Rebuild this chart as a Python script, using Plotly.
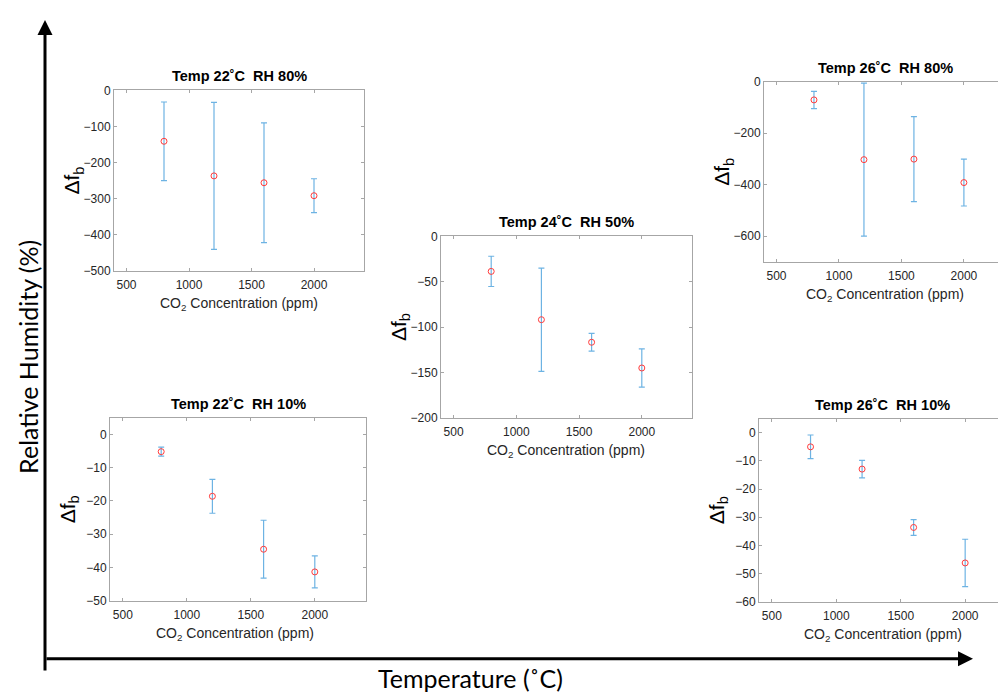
import plotly.graph_objects as go

# ----------------------------------
# DATA
# ----------------------------------

co2_ppm = [800, 1200, 1600, 2000]

df_22_80 = [-141, -237, -256, -292]
err_22_80 = [109, 204, 166, 47]

df_24_50 = [-38.6, -91.9, -116.8, -145.2]
err_24_50 = [16.7, 57, 9.7, 21]

df_26_80 = [-71, -303, -301, -392]
err_26_80 = [33.5, 297, 165, 91]

df_22_10 = [-5.2, -18.6, -34.5, -41.3]
err_22_10 = [1.35, 5.1, 8.7, 4.8]

df_26_10 = [-5.0, -12.9, -33.6, -46.2]
err_26_10 = [4.2, 3.1, 2.8, 8.4]

titles = [
    "Temp 22˚C\u00a0 RH 80%",
    "Temp 24˚C\u00a0 RH 50%",
    "Temp 26˚C\u00a0 RH 80%",
    "Temp 22˚C\u00a0 RH 10%",
    "Temp 26˚C\u00a0 RH 10%",
]

# ----------------------------------
# PANEL LAYOUT
# ----------------------------------

# the page body keeps its 8px margin, so the figure is drawn
# 8px in from the corner; size it to end at the window edge
OFF = 8
W, H = 1006 - OFF, 698 - OFF


def px_x(px):
    return (px - OFF) / W


def px_y(py):
    return 1 - (py - OFF) / H


# (left, right, top, bottom) in window pixels, x range, y range, y ticks
panels = [
    ((114, 364, 85, 269), [400, 2400], [-500, 0], [0, -100, -200, -300, -400, -500]),
    ((441, 692, 234, 419), [400, 2400], [-200, 0], [0, -50, -100, -150, -200]),
    ((764, 1006, 76, 260), [400, 2337], [-700, 0], [0, -200, -400, -600]),
    ((110, 366, 419, 606), [400, 2400], [-50, 5], [0, -10, -20, -30, -40, -50]),
    ((759, 1006, 420, 607), [400, 2317], [-60, 5], [0, -10, -20, -30, -40, -50, -60]),
]

series = [
    (df_22_80, err_22_80),
    (df_24_50, err_24_50),
    (df_26_80, err_26_80),
    (df_22_10, err_22_10),
    (df_26_10, err_26_10),
]

AX_COLOR = "#a6a6a6"
TICK_FONT = dict(family="Liberation Sans, Arial", size=12, color="#262626")

fig = go.Figure()
annotations = []
layout_axes = {}

for i, ((l, r, t, b), xr, yr, yt) in enumerate(panels):
    n = "" if i == 0 else str(i + 1)
    ys, errs = series[i]

    fig.add_trace(go.Scatter(
        x=co2_ppm,
        y=ys,
        mode="markers",
        marker=dict(symbol="circle-open", size=6, color="#ff3b3b",
                    line=dict(width=1, color="#ff3b3b")),
        error_y=dict(type="data", array=errs, visible=True,
                     color="#6db3e3", thickness=1.2, width=3),
        xaxis="x" + n,
        yaxis="y" + n,
        showlegend=False,
    ))

    clipped = r >= 1006
    layout_axes["xaxis" + n] = dict(
        domain=[px_x(l), min(px_x(r), 1)],
        range=xr,
        anchor="y" + n,
        tickvals=[500, 1000, 1500, 2000],
        ticks="inside", ticklen=3, tickcolor=AX_COLOR,
        ticklabelstandoff=3,
        showline=True, linecolor=AX_COLOR, linewidth=1,
        mirror="ticks", showgrid=False, zeroline=False,
        tickfont=TICK_FONT,
    )
    layout_axes["yaxis" + n] = dict(
        domain=[px_y(b), px_y(t)],
        range=yr,
        anchor="x" + n,
        tickvals=yt,
        ticks="inside", ticklen=3, tickcolor=AX_COLOR,
        showline=True, linecolor=AX_COLOR, linewidth=1,
        mirror=False if clipped else "ticks",
        showgrid=False, zeroline=False,
        tickfont=TICK_FONT,
    )

    annotations.append(dict(
        text="<b>" + titles[i] + "</b>",
        x=px_x((l + r) / 2), y=px_y(t), xref="paper", yref="paper",
        xanchor="center", yanchor="bottom", yshift=4, showarrow=False,
        font=dict(family="Liberation Sans, Arial", size=14.5, color="black"),
    ))
    annotations.append(dict(
        text="CO<sub>2</sub> Concentration (ppm)",
        x=px_x((l + min(r, l + 250)) / 2), y=px_y(b),
        xref="paper", yref="paper",
        xanchor="center", yanchor="top", yshift=-22, showarrow=False,
        font=dict(family="Liberation Sans, Arial", size=14, color="#262626"),
    ))
    annotations.append(dict(
        text="Δf<sub>b</sub>",
        x=px_x(l), y=px_y((t + b) / 2), xref="paper", yref="paper",
        xanchor="center", yanchor="middle", xshift=-41, showarrow=False,
        textangle=-90,
        font=dict(family="Liberation Sans, Arial", size=21, color="black"),
    ))

# ----------------------------------
# BIG AXES ARROWS
# ----------------------------------

annotations.append(dict(
    x=px_x(45), y=px_y(13), xref="paper", yref="paper",
    ax=0, ay=652, showarrow=True, arrowhead=2, arrowsize=1,
    arrowwidth=3, arrowcolor="black", text="",
))
annotations.append(dict(
    x=px_x(973), y=px_y(665), xref="paper", yref="paper",
    ax=-928, ay=0, showarrow=True, arrowhead=2, arrowsize=1,
    arrowwidth=3, arrowcolor="black", text="",
))
annotations.append(dict(
    text="Relative Humidity (%)",
    x=px_x(28), y=px_y(357), xref="paper", yref="paper",
    xanchor="center", yanchor="middle", showarrow=False, textangle=-90,
    font=dict(family="Lato", size=25, color="black"),
))
annotations.append(dict(
    text="Temperature (˚C)",
    x=px_x(470), y=px_y(685), xref="paper", yref="paper",
    xanchor="center", yanchor="middle", showarrow=False,
    font=dict(family="Lato", size=25, color="black"),
))

fig.update_layout(
    width=W,
    height=H,
    margin=dict(l=0, r=0, t=0, b=0),
    paper_bgcolor="white",
    plot_bgcolor="white",
    annotations=annotations,
    **layout_axes,
)

fig.write_html("out.html")
